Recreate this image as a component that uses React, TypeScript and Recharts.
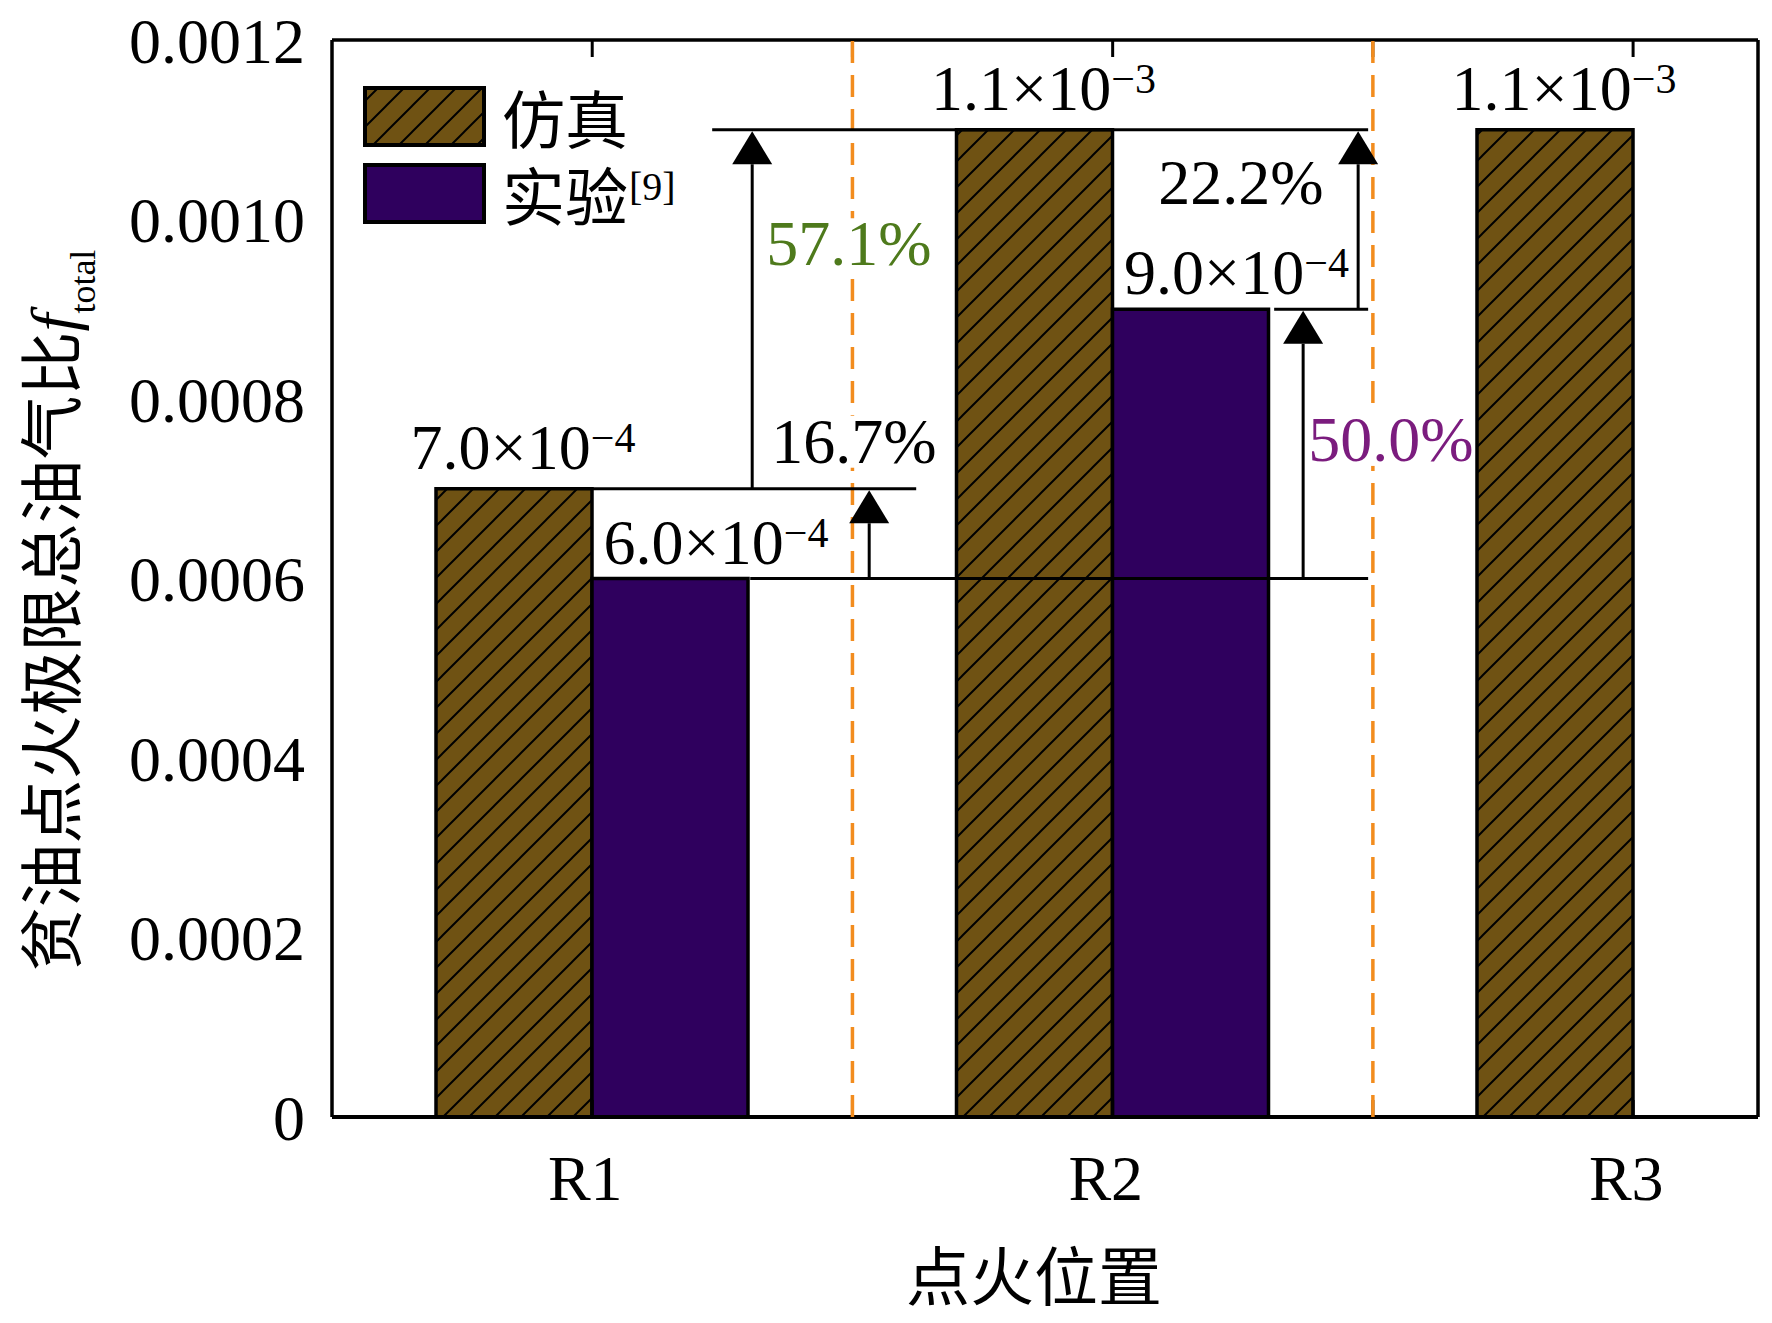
import { BarChart, Bar, XAxis, YAxis, ReferenceLine, ReferenceDot, LabelList, Legend } from "recharts";

const positions = ["R1", "R2", "R3"];
const simValues = [0.0007, 0.0011, 0.0011];
const expValues: (number | null)[] = [0.0006, 0.0009, null];

const yTicks = [0, 0.0002, 0.0004, 0.0006, 0.0008, 0.001, 0.0012];
const yMinorTicks = [0.0001, 0.0003, 0.0005, 0.0007, 0.0009, 0.0011];
const xTicks = [1, 1.5, 2, 2.5, 3];
const dividers = [1.5, 2.5];

// comparison arrows (x on the numeric axis where R1 = 1)
const arrowX = [1.3074, 1.5322, 2.366, 2.4717];
const arrowFrom = [0.0007, 0.0006, 0.0006, 0.0009];
const arrowTo = [0.0011, 0.0007, 0.0009, 0.0011];
const arrowLabelX = [1.3343, 1.3439, 2.3756, 2.0874];
const arrowLabelY = [0.000949, 0.000729, 0.000731, 0.001017];
const arrowLabelColor = ["#4e7a1c", "#000000", "#7b1c7e", "#000000"];

// horizontal guide lines
const guideY = [0.0011, 0.0007, 0.0006, 0.0009];
const guideFrom = [1.2305, 1.0, 1.3036, 2.3103];
const guideTo = [2.4909, 1.6225, 2.4909, 2.4909];

const SERIF = "'Liberation Serif', 'Times New Roman', serif";
const CJK = "'Noto Sans CJK SC', sans-serif";
const SIM_COLOR = "#6f5213";
const EXP_COLOR = "#2f005e";
const X_DOMAIN: [number, number] = [0.5, 3.24];

const rows = positions.map((pos, i) => ({ pos, xn: i + 1, sim: simValues[i], exp: expValues[i] }));

function sciParts(v: number) {
  const e = Math.floor(Math.log10(v));
  return { m: (v / Math.pow(10, e)).toFixed(1), e };
}

function valueLabel(dx: number, lift: number) {
  return (props: any) => {
    const vb = props.viewBox ?? props;
    if (props.value == null) return null;
    const { m, e } = sciParts(props.value);
    return (
      <text x={vb.x + vb.width / 2 + dx} y={vb.y - lift} textAnchor="middle" fontFamily={SERIF} fontSize={64} fill="#000">
        {`${m}×10`}
        <tspan fontSize={42} dy={-17}>{`−${Math.abs(e)}`}</tspan>
      </text>
    );
  };
}

const renderArrow = (p: any) => {
  const { x1, y1, x2, y2 } = p;
  const tipY = y2 + 1.5;
  const baseY = tipY + 33;
  return (
    <g>
      <line x1={x1} y1={y1} x2={x2} y2={baseY} stroke="#000" strokeWidth={3} />
      <polygon points={`${x2},${tipY} ${x2 - 20},${baseY} ${x2 + 20},${baseY}`} fill="#000" />
    </g>
  );
};

function percentLabel(text: string, color: string) {
  return (p: any) => (
    <g>
      <rect x={p.cx - 2} y={p.cy - 47} width={text.length * 32 + 2} height={52} fill="#fff" />
      <text x={p.cx} y={p.cy} fontFamily={SERIF} fontSize={64} fill={color}>{text}</text>
    </g>
  );
}

const EmptyTick = () => <g />;

const CatTick = (p: any) => (
  <text x={p.x - 7} y={p.y + 83} textAnchor="middle" fontFamily={SERIF} fontSize={64} fill="#000">
    {p.payload.value}
  </text>
);

const xLabel = (p: any) => {
  const vb = p.viewBox;
  return (
    <text x={vb.x + vb.width / 2 - 11} y={1300} textAnchor="middle" fontFamily={CJK} fontSize={64} fill="#000">
      点火位置
    </text>
  );
};

const yLabel = (p: any) => {
  const vb = p.viewBox;
  const cy = vb.y + vb.height / 2 + 32;
  return (
    <text transform={`translate(75, ${cy}) rotate(-90)`} textAnchor="middle" fill="#000">
      <tspan fontFamily={CJK} fontSize={64}>贫油点火极限总油气比</tspan>
      <tspan fontFamily={SERIF} fontStyle="italic" fontSize={64}>f</tspan>
      <tspan fontFamily={SERIF} fontSize={36} dy={20}>total</tspan>
    </text>
  );
};

const renderLegend = (props: any) => {
  const payload = props.payload ?? [];
  return (
    <svg width={340} height={190}>
      <defs>
        <pattern id="simHatchLegend" patternUnits="userSpaceOnUse" width={26} height={26}>
          <rect width={26} height={26} fill={SIM_COLOR} />
          <path d="M-6.5,6.5 L6.5,-6.5 M0,26 L26,0 M19.5,32.5 L32.5,19.5" stroke="#000" strokeWidth={2} />
        </pattern>
      </defs>
      {payload.map((entry: any, i: number) => (
        <g key={entry.value} transform={`translate(0, ${20 + i * 77})`}>
          <rect x={5} y={8} width={119} height={57} fill={i === 0 ? "url(#simHatchLegend)" : EXP_COLOR} stroke="#000" strokeWidth={4} />
          <text x={142} y={63} fontFamily={CJK} fontSize={63} fill="#000">{entry.value}</text>
          {i === 1 && (
            <text x={269} y={43} fontFamily={SERIF} fontSize={40} fill="#000">[9]</text>
          )}
        </g>
      ))}
    </svg>
  );
};

const tickStroke = { stroke: "#000", strokeWidth: 3 };
const axisStroke = { stroke: "#000", strokeWidth: 3.5 };

export default function App() {
  return (
    <div style={{ position: "absolute", left: 0, top: 0, width: 1772, height: 1323, background: "#fff" }}>
      <BarChart
        width={1772}
        height={1323}
        data={rows}
        margin={{ top: 40, right: 14, bottom: 0, left: 0 }}
        barGap={0}
        barSize={156}
      >
        <defs>
          <pattern id="simHatch" patternUnits="userSpaceOnUse" width={26} height={26}>
            <rect width={26} height={26} fill={SIM_COLOR} />
            <path d="M-6.5,6.5 L6.5,-6.5 M0,26 L26,0 M19.5,32.5 L32.5,19.5" stroke="#000" strokeWidth={2} />
          </pattern>
        </defs>

        <XAxis
          xAxisId="cat"
          dataKey="pos"
          height={206}
          padding={{ left: 0, right: -135.5 }}
          axisLine={false}
          tickLine={false}
          tickSize={0}
          tickMargin={0}
          interval={0}
          tick={CatTick}
          label={xLabel}
        />
        <XAxis xAxisId="num" dataKey="xn" type="number" domain={X_DOMAIN} ticks={xTicks} allowDataOverflow mirror height={1}
          interval={0} tick={EmptyTick} tickSize={17} axisLine={{ stroke: "#000", strokeWidth: 4 }} tickLine={tickStroke} />
        <XAxis xAxisId="top" dataKey="xn" orientation="top" type="number" domain={X_DOMAIN} ticks={xTicks} allowDataOverflow mirror height={1}
          interval={0} tick={EmptyTick} tickSize={17} axisLine={axisStroke} tickLine={tickStroke} />

        <YAxis
          yAxisId="val"
          domain={[0, 0.0012]}
          ticks={yTicks}
          width={332}
          axisLine={false}
          tickLine={false}
          tickSize={0}
          tickMargin={27}
          interval={0}
          tick={{ fontSize: 64, fontFamily: SERIF, fill: "#000" }}
          tickFormatter={(v: number) => (v === 0 ? "0" : v.toFixed(4))}
          label={yLabel}
        />
        <YAxis yAxisId="lmaj" domain={[0, 0.0012]} ticks={yTicks} mirror width={1} tick={EmptyTick} tickSize={17}
          axisLine={axisStroke} tickLine={tickStroke} interval={0} />
        <YAxis yAxisId="lmin" domain={[0, 0.0012]} ticks={yMinorTicks} mirror width={1} tick={EmptyTick} tickSize={9}
          axisLine={false} tickLine={tickStroke} interval={0} />
        <YAxis yAxisId="rmaj" orientation="right" domain={[0, 0.0012]} ticks={yTicks} mirror width={1} tick={EmptyTick} tickSize={17}
          axisLine={axisStroke} tickLine={tickStroke} interval={0} />
        <YAxis yAxisId="rmin" orientation="right" domain={[0, 0.0012]} ticks={yMinorTicks} mirror width={1} tick={EmptyTick} tickSize={9}
          axisLine={false} tickLine={tickStroke} interval={0} />

        <Bar xAxisId="cat" yAxisId="val" dataKey="sim" name="仿真" fill="url(#simHatch)" stroke="#000" strokeWidth={3.5} isAnimationActive={false}>
          <LabelList dataKey="sim" content={valueLabel(9, 20)} />
        </Bar>
        <Bar xAxisId="cat" yAxisId="val" dataKey="exp" name="实验" fill={EXP_COLOR} stroke="#000" strokeWidth={3.5} isAnimationActive={false}>
          <LabelList dataKey="exp" content={valueLabel(46, 15)} />
        </Bar>

        {dividers.map((d) => (
          <ReferenceLine key={`div-${d}`} xAxisId="num" yAxisId="val" x={d} stroke="#f28c1e" strokeWidth={3.5} strokeDasharray="22 12" zIndex={1400} />
        ))}

        {guideY.map((y, i) => (
          <ReferenceLine
            key={`guide-${i}`}
            xAxisId="num"
            yAxisId="val"
            segment={[{ x: guideFrom[i], y }, { x: guideTo[i], y }]}
            stroke="#000"
            strokeWidth={3}
            zIndex={1500}
          />
        ))}

        {arrowX.map((x, i) => (
          <ReferenceLine
            key={`arrow-${i}`}
            xAxisId="num"
            yAxisId="val"
            segment={[{ x, y: arrowFrom[i] }, { x, y: arrowTo[i] }]}
            shape={renderArrow}
            zIndex={1500}
          />
        ))}

        {arrowX.map((_, i) => {
          const pct = (((arrowTo[i] - arrowFrom[i]) / arrowFrom[i]) * 100).toFixed(1) + "%";
          return (
            <ReferenceDot
              key={`pct-${i}`}
              xAxisId="num"
              yAxisId="val"
              x={arrowLabelX[i]}
              y={arrowLabelY[i]}
              r={0}
              shape={percentLabel(pct, arrowLabelColor[i])}
              zIndex={1600}
            />
          );
        })}

        <Legend
          layout="vertical"
          align="center"
          verticalAlign="middle"
          content={renderLegend}
          wrapperStyle={{ left: 360, top: 60, width: 340, height: 190 }}
        />
      </BarChart>
    </div>
  );
}
